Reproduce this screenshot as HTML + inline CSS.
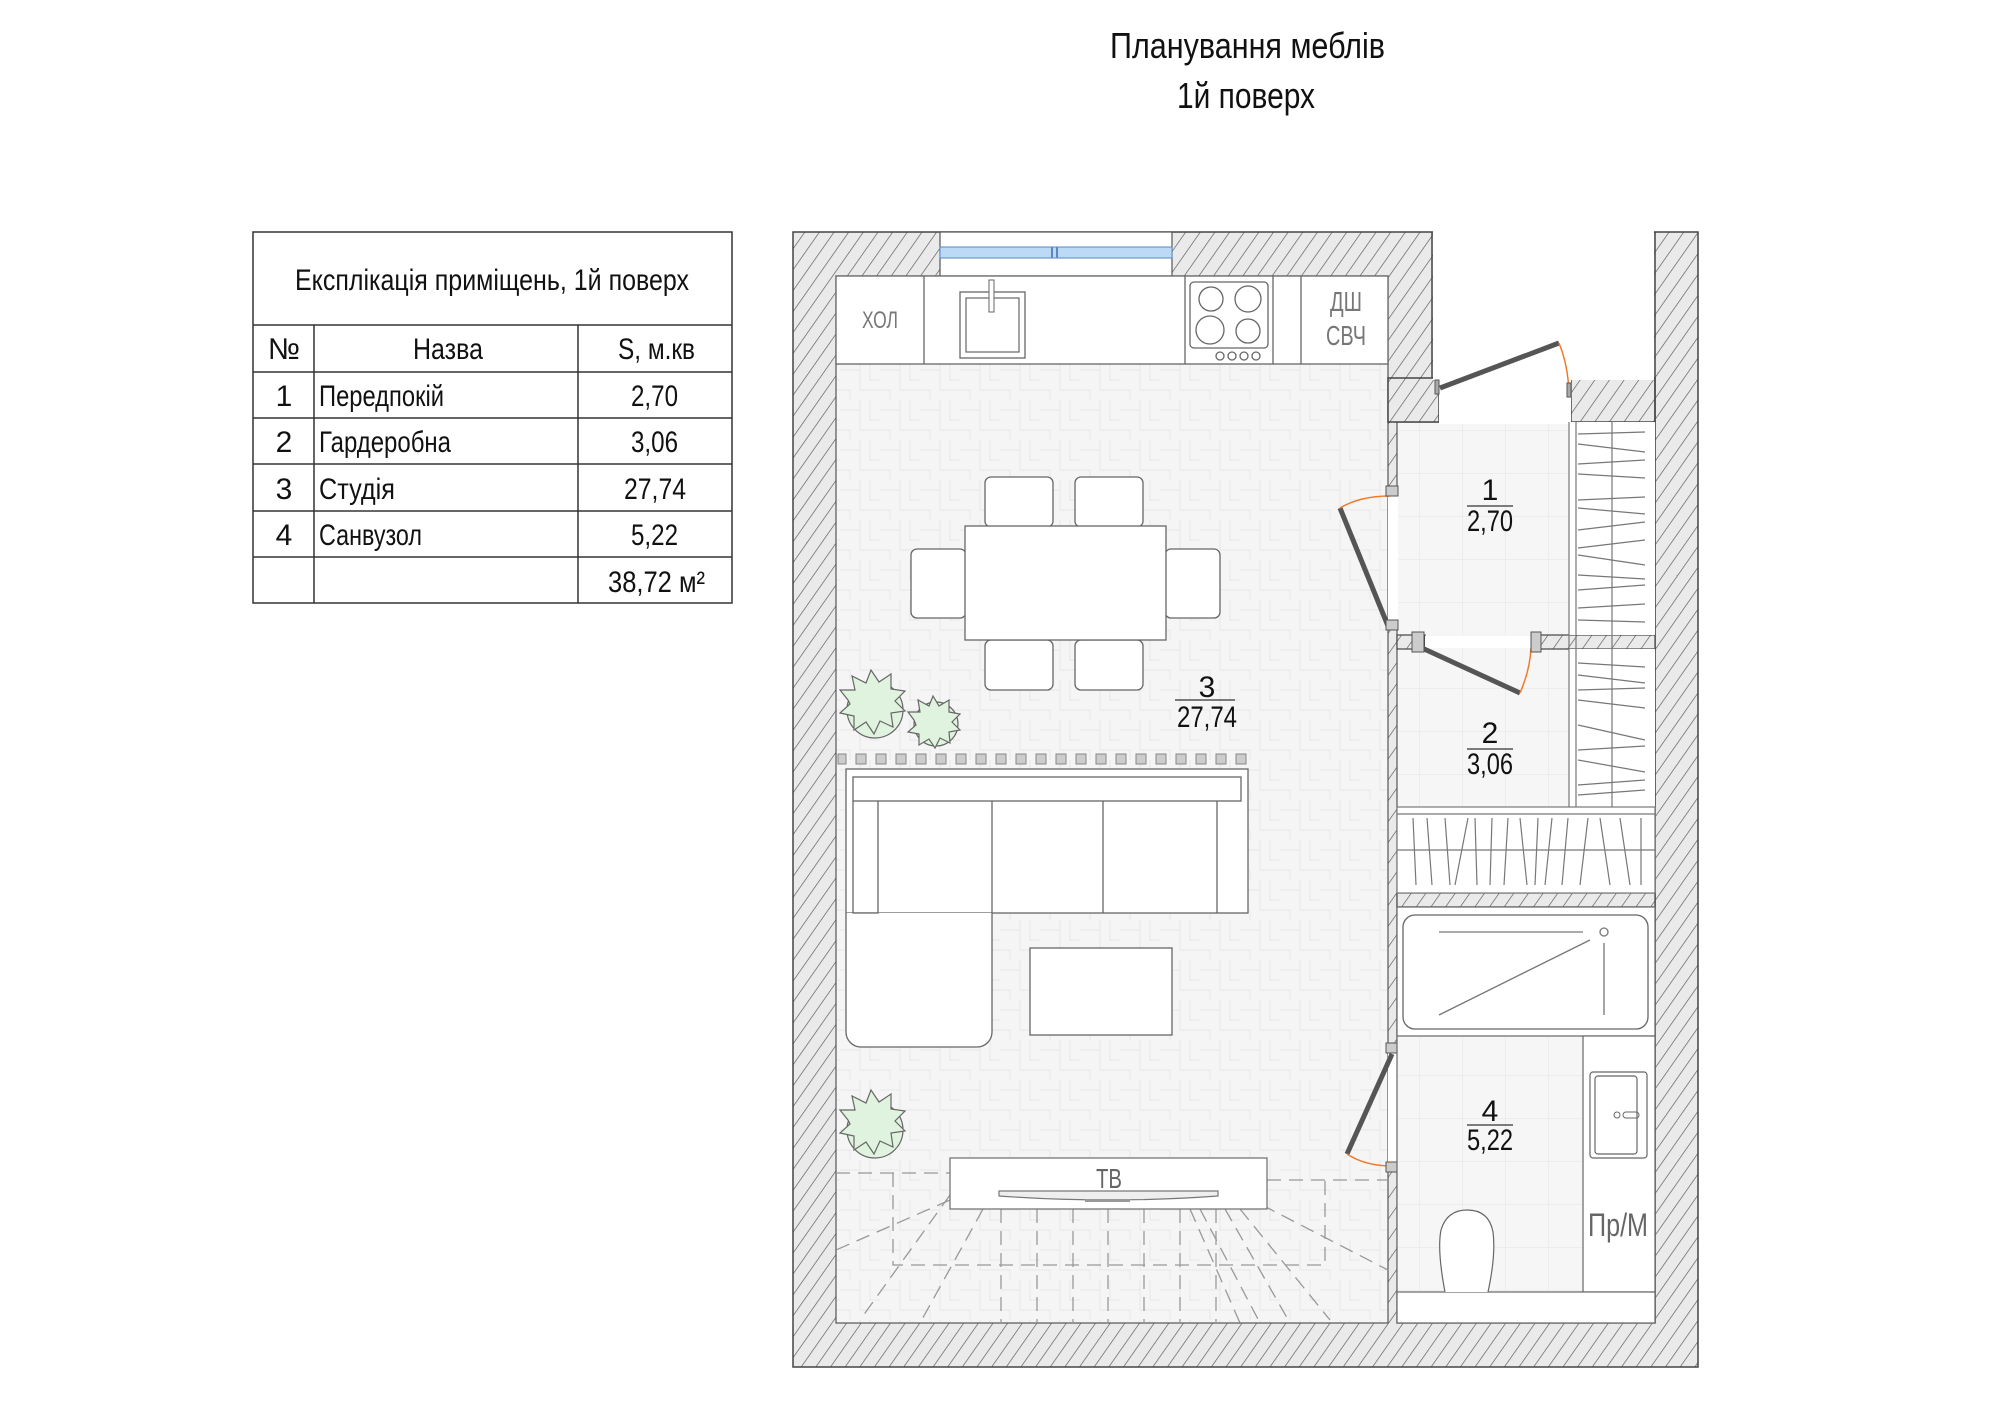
<!DOCTYPE html>
<html><head><meta charset="utf-8"><style>
html,body{margin:0;padding:0;background:#fff;}
svg{display:block;}
text{font-family:"Liberation Sans Narrow","Liberation Sans",sans-serif;}
</style></head><body>
<svg width="2000" height="1401" viewBox="0 0 2000 1401" xmlns="http://www.w3.org/2000/svg">
<defs>
<pattern id="h" width="12" height="12" patternUnits="userSpaceOnUse" patternTransform="rotate(35)">
<rect width="12" height="12" fill="#eaeaea"/><line x1="0" y1="0" x2="0" y2="12" stroke="#555" stroke-width="1.3"/></pattern>
<pattern id="f" width="40" height="40" patternUnits="userSpaceOnUse">
<rect width="40" height="40" fill="#f5f5f5"/><path d="M0 10H20V30H40M20 0V10M0 30H10V40M30 0V20H40" stroke="#e6e6e6" fill="none" stroke-width="1"/></pattern>
<pattern id="t" width="43" height="43" patternUnits="userSpaceOnUse">
<rect width="43" height="43" fill="#f6f6f6"/><path d="M0 0H43M0 0V43" stroke="#e4e4e4" stroke-width="1"/></pattern>
</defs>

<!-- Title -->
<text x="1110" y="58" font-size="36" textLength="275" lengthAdjust="spacingAndGlyphs" fill="#111">Планування меблів</text>
<text x="1177" y="108" font-size="36" textLength="138" lengthAdjust="spacingAndGlyphs" fill="#111">1й поверх</text>

<!-- Table -->
<g stroke="#333" stroke-width="1.5" fill="none">
<rect x="253" y="232" width="479" height="371"/>
<path d="M253 325H732M253 372H732M253 418H732M253 464H732M253 511H732M253 557H732M314 325V603M578 325V603"/>
</g>
<g fill="#111" font-size="30">
<text x="295" y="290" textLength="394" lengthAdjust="spacingAndGlyphs">Експлікація приміщень, 1й поверх</text>
<text x="284" y="359" text-anchor="middle">№</text>
<text x="413" y="359" textLength="70" lengthAdjust="spacingAndGlyphs">Назва</text>
<text x="618" y="359" textLength="77" lengthAdjust="spacingAndGlyphs">S, м.кв</text>
<text x="284" y="406" text-anchor="middle">1</text><text x="319" y="406" textLength="125" lengthAdjust="spacingAndGlyphs">Передпокій</text><text x="631" y="406" textLength="47" lengthAdjust="spacingAndGlyphs">2,70</text>
<text x="284" y="452" text-anchor="middle">2</text><text x="319" y="452" textLength="132" lengthAdjust="spacingAndGlyphs">Гардеробна</text><text x="631" y="452" textLength="47" lengthAdjust="spacingAndGlyphs">3,06</text>
<text x="284" y="499" text-anchor="middle">3</text><text x="319" y="499" textLength="76" lengthAdjust="spacingAndGlyphs">Студія</text><text x="624" y="499" textLength="62" lengthAdjust="spacingAndGlyphs">27,74</text>
<text x="284" y="545" text-anchor="middle">4</text><text x="319" y="545" textLength="103" lengthAdjust="spacingAndGlyphs">Санвузол</text><text x="631" y="545" textLength="47" lengthAdjust="spacingAndGlyphs">5,22</text>
<text x="608" y="592" textLength="97" lengthAdjust="spacingAndGlyphs">38,72 м²</text>
</g>

<!-- Walls -->
<rect x="793" y="232" width="905" height="1135" fill="url(#h)" stroke="#444" stroke-width="1.5"/>
<rect x="836" y="276" width="552" height="1047" fill="url(#f)" stroke="#555" stroke-width="1.2"/>
<rect x="1397" y="422" width="258" height="901" fill="url(#t)" stroke="#555" stroke-width="1.2"/>
<rect x="1388" y="378" width="51" height="44" fill="url(#h)" stroke="#444" stroke-width="1.5"/>
<rect x="1571" y="378" width="84" height="44" fill="url(#h)" stroke="#444" stroke-width="1.5"/>
<rect x="1439" y="378" width="132" height="46" fill="#fff"/>
<rect x="1433" y="229" width="221" height="151" fill="#fff"/>
<path d="M1432 232V378M1655 232V1323" stroke="#444" stroke-width="1.5"/>
<rect x="1537" y="635" width="118" height="14" fill="url(#h)" stroke="#444" stroke-width="1.2"/>
<rect x="1397" y="635" width="28" height="14" fill="url(#h)" stroke="#444" stroke-width="1.2"/>
<rect x="1397" y="893" width="258" height="14" fill="url(#h)" stroke="#444" stroke-width="1.2"/>
<rect x="1388" y="492" width="10" height="134" fill="#fff"/>
<rect x="1388" y="1050" width="10" height="112" fill="#fff"/>
<rect x="1425" y="636" width="112" height="12" fill="#fff"/>

<!-- Window -->
<rect x="940" y="232" width="232" height="44" fill="#fff" stroke="#555" stroke-width="1.2"/>
<rect x="940" y="247" width="232" height="11" fill="#bcd9f5" stroke="#5a88c0" stroke-width="1"/>
<path d="M1052 247V258M1057 247V258" stroke="#5a88c0" stroke-width="2"/>

<!-- Kitchen -->
<rect x="836" y="276" width="552" height="88" fill="#fff" stroke="#666" stroke-width="1.3"/>
<path d="M924 276V364M1185 276V364M1273 276V364M1301 276V364" stroke="#666" stroke-width="1.3"/>
<text x="880" y="328" font-size="24" fill="#777" text-anchor="middle" textLength="36" lengthAdjust="spacingAndGlyphs">ХОЛ</text>
<text x="1346" y="311" font-size="28" fill="#777" text-anchor="middle" textLength="32" lengthAdjust="spacingAndGlyphs">ДШ</text>
<text x="1346" y="345" font-size="28" fill="#777" text-anchor="middle" textLength="40" lengthAdjust="spacingAndGlyphs">СВЧ</text>
<rect x="960" y="292" width="65" height="66" fill="#fff" stroke="#666" stroke-width="1.3"/>
<rect x="966" y="298" width="53" height="54" fill="none" stroke="#666" stroke-width="1.2"/>
<rect x="989" y="280" width="5" height="32" fill="#fff" stroke="#666"/>
<rect x="1190" y="282" width="78" height="66" rx="4" fill="#fff" stroke="#666" stroke-width="1.3"/>
<g fill="none" stroke="#666" stroke-width="1.3">
<circle cx="1211" cy="299" r="12"/><circle cx="1248" cy="299" r="13"/><circle cx="1210" cy="330" r="14"/><circle cx="1248" cy="331" r="12"/>
<circle cx="1220" cy="356" r="4"/><circle cx="1232" cy="356" r="4"/><circle cx="1244" cy="356" r="4"/><circle cx="1256" cy="356" r="4"/>
</g>

<!-- Dining -->
<g fill="#fff" stroke="#666" stroke-width="1.3">
<rect x="985" y="477" width="68" height="50" rx="6"/><rect x="1075" y="477" width="68" height="50" rx="6"/>
<rect x="985" y="640" width="68" height="50" rx="6"/><rect x="1075" y="640" width="68" height="50" rx="6"/>
<rect x="911" y="549" width="55" height="69" rx="6"/><rect x="1165" y="549" width="55" height="69" rx="6"/>
<rect x="965" y="526" width="201" height="114"/>
</g>
<text x="1207" y="697" font-size="30" text-anchor="middle" fill="#111">3</text>
<line x1="1175" y1="700" x2="1235" y2="700" stroke="#333" stroke-width="1.3"/>
<text x="1207" y="727" font-size="30" text-anchor="middle" fill="#111" textLength="60" lengthAdjust="spacingAndGlyphs">27,74</text>

<!-- Plants -->
<g fill="#dff3df" stroke="#666" stroke-width="1.2">
<circle cx="875" cy="710" r="28"/><path d="M848 700l-8-10 15 0-3-14 14 7 5-13 8 12 12-8 0 15 14 2-10 10 10 10-14 2 2 14-13-6-6 13-8-12-12 8 0-14-14-3 10-9z"/>
<circle cx="936" cy="724" r="22"/><path d="M914 720l-6-8 12 0-2-12 11 6 4-10 6 10 10-6 0 12 11 2-8 8 8 8-11 2 1 11-10-5-5 10-6-9-10 6 0-11-11-2 8-7z"/>
<circle cx="875" cy="1130" r="28"/><path d="M848 1120l-8-10 15 0-3-14 14 7 5-13 8 12 12-8 0 15 14 2-10 10 10 10-14 2 2 14-13-6-6 13-8-12-12 8 0-14-14-3 10-9z"/>
</g>

<!-- Studs -->
<g fill="#ccc" stroke="#888" stroke-width="1">
<rect x="838" y="754" width="8" height="10"/>
<rect x="856" y="754" width="10" height="10"/><rect x="876" y="754" width="10" height="10"/><rect x="896" y="754" width="10" height="10"/><rect x="916" y="754" width="10" height="10"/><rect x="936" y="754" width="10" height="10"/><rect x="956" y="754" width="10" height="10"/><rect x="976" y="754" width="10" height="10"/><rect x="996" y="754" width="10" height="10"/><rect x="1016" y="754" width="10" height="10"/><rect x="1036" y="754" width="10" height="10"/><rect x="1056" y="754" width="10" height="10"/><rect x="1076" y="754" width="10" height="10"/><rect x="1096" y="754" width="10" height="10"/><rect x="1116" y="754" width="10" height="10"/><rect x="1136" y="754" width="10" height="10"/><rect x="1156" y="754" width="10" height="10"/><rect x="1176" y="754" width="10" height="10"/><rect x="1196" y="754" width="10" height="10"/><rect x="1216" y="754" width="10" height="10"/><rect x="1236" y="754" width="10" height="10"/>
</g>

<!-- Sofa -->
<g fill="#fff" stroke="#666" stroke-width="1.3">
<rect x="846" y="769" width="402" height="144"/>
<path d="M846 913V1032a15 15 0 0 0 15 15H977a15 15 0 0 0 15-15V913"/>
<rect x="853" y="777" width="388" height="24"/>
<path d="M853 801V913H878V801M992 801V913M1103 801V913M1217 801V913" fill="none"/>
<rect x="1030" y="948" width="142" height="87"/>
</g>

<!-- TV area dashed -->
<g stroke="#999" stroke-width="1.3" fill="none" stroke-dasharray="14 8">
<path d="M836 1173H950M1267 1180H1388M893 1173V1265H1325V1180"/>
<path d="M983 1209L920 1323M1001 1209V1323M1037 1209V1323M1073 1209V1323M1108 1209V1323M1144 1209V1323M1180 1209V1323M1216 1209V1323"/>
<path d="M950 1200L836 1250M950 1195L860 1320M1225 1209L1290 1323M1240 1209L1330 1320M1262 1205L1388 1270M1200 1209L1260 1323M1190 1209L1240 1323"/>
</g>
<rect x="950" y="1158" width="317" height="51" fill="#fff" stroke="#777" stroke-width="1.3"/>
<text x="1109" y="1188" font-size="28" text-anchor="middle" fill="#666" textLength="26" lengthAdjust="spacingAndGlyphs">ТВ</text>
<path d="M999 1191H1218V1196Q1109 1204 999 1196Z" fill="#eee" stroke="#777" stroke-width="1.2"/>
<rect x="1085" y="1199" width="45" height="3" fill="#999"/>

<!-- Entry door -->
<line x1="1440" y1="388" x2="1559" y2="343" stroke="#555" stroke-width="5"/>
<path d="M1559 343Q1568 365 1569 392" stroke="#f07a2a" stroke-width="1.5" fill="none"/>
<rect x="1435" y="380" width="4" height="14" fill="#aaa" stroke="#555"/>
<rect x="1567" y="383" width="4" height="14" fill="#aaa" stroke="#555"/>

<!-- Door room1 -->
<line x1="1388" y1="626" x2="1340" y2="508" stroke="#555" stroke-width="5"/>
<path d="M1340 508Q1360 496 1390 496" stroke="#f07a2a" stroke-width="1.5" fill="none"/>
<rect x="1386" y="486" width="12" height="10" fill="#ccc" stroke="#555"/>
<rect x="1386" y="620" width="12" height="10" fill="#ccc" stroke="#555"/>
<!-- Door room2 -->
<line x1="1422" y1="648" x2="1520" y2="693" stroke="#555" stroke-width="5"/>
<path d="M1520 693Q1530 670 1531 648" stroke="#f07a2a" stroke-width="1.5" fill="none"/>
<rect x="1412" y="632" width="12" height="20" fill="#ccc" stroke="#555"/>
<rect x="1531" y="632" width="10" height="20" fill="#ccc" stroke="#555"/>
<!-- Door room4 -->
<line x1="1392" y1="1054" x2="1347" y2="1154" stroke="#555" stroke-width="5"/>
<path d="M1347 1154Q1365 1166 1392 1166" stroke="#f07a2a" stroke-width="1.5" fill="none"/>
<rect x="1386" y="1043" width="12" height="10" fill="#ccc" stroke="#555"/>
<rect x="1386" y="1162" width="12" height="10" fill="#ccc" stroke="#555"/>

<!-- Wardrobes -->
<rect x="1569" y="422" width="86" height="213" fill="#fff"/>
<rect x="1569" y="649" width="86" height="158" fill="#fff"/>
<g stroke="#777" stroke-width="1.2" fill="none">
<path d="M1569 422V807M1576 422V807M1612 422V807"/>
<path d="M1578 434L1645 432M1578 444L1645 452M1578 464L1645 460M1578 474L1645 478M1578 500L1645 497M1578 508L1645 514M1578 530L1645 522M1578 548L1645 540M1578 555L1645 565M1578 575L1645 579M1578 590L1645 585M1578 608L1645 604M1578 620L1645 622"/>
<path d="M1578 663L1645 667M1578 675L1645 683M1578 690L1645 688M1578 700L1645 708M1578 725L1645 740M1578 750L1645 746M1578 760L1645 772M1578 785L1645 780M1578 795L1645 790"/>
</g>
<rect x="1397" y="807" width="258" height="86" fill="#fff" stroke="#777" stroke-width="1.2"/>
<g stroke="#777" stroke-width="1.2" fill="none">
<path d="M1397 814H1655M1397 850H1655"/>
<path d="M1413 818L1416 885M1427 818L1432 885M1445 818L1450 885M1468 818L1455 885M1475 818L1477 885M1492 818L1490 885M1508 818L1504 885M1520 818L1527 885M1538 818L1535 885M1552 818L1545 885M1568 818L1562 885M1588 818L1580 885M1600 818L1610 885M1620 818L1630 885M1641 818L1641 885"/>
</g>

<!-- Bathroom -->
<rect x="1397" y="907" width="258" height="416" fill="url(#t)" stroke="#666" stroke-width="1.2"/>
<rect x="1397" y="907" width="258" height="129" fill="#fff" stroke="#666" stroke-width="1.2"/>
<rect x="1403" y="915" width="245" height="114" rx="12" fill="#fff" stroke="#666" stroke-width="1.3"/>
<g stroke="#777" stroke-width="1.3" fill="none">
<path d="M1439 932H1583M1439 1015L1590 940M1604 943V1015"/><circle cx="1604" cy="932" r="4"/>
</g>
<rect x="1583" y="1036" width="72" height="256" fill="#fff" stroke="#666" stroke-width="1.2"/>
<rect x="1590" y="1072" width="57" height="86" rx="3" fill="#fff" stroke="#666" stroke-width="1.2"/>
<rect x="1595" y="1076" width="42" height="78" rx="3" fill="none" stroke="#666" stroke-width="1.2"/>
<circle cx="1617" cy="1115" r="3" fill="none" stroke="#666"/><rect x="1623" y="1112" width="16" height="6" rx="3" fill="none" stroke="#666"/>
<text x="1618" y="1236" font-size="32" text-anchor="middle" fill="#666" textLength="60" lengthAdjust="spacingAndGlyphs">Пр/М</text>
<rect x="1397" y="1292" width="258" height="31" fill="#fff" stroke="#666" stroke-width="1.2"/>
<path d="M1445 1292Q1437 1250 1441 1230Q1447 1210 1467 1210Q1489 1210 1493 1232Q1496 1255 1488 1292" fill="#fff" stroke="#666" stroke-width="1.2"/>

<!-- Room labels -->
<g fill="#111" font-size="30" text-anchor="middle">
<text x="1490" y="500">1</text><text x="1490" y="531" textLength="46" lengthAdjust="spacingAndGlyphs">2,70</text>
<text x="1490" y="743">2</text><text x="1490" y="774" textLength="46" lengthAdjust="spacingAndGlyphs">3,06</text>
<text x="1490" y="1121">4</text><text x="1490" y="1150" textLength="46" lengthAdjust="spacingAndGlyphs">5,22</text>
</g>
<g stroke="#333" stroke-width="1.3">
<line x1="1467" y1="506" x2="1513" y2="506"/><line x1="1467" y1="749" x2="1513" y2="749"/><line x1="1467" y1="1125" x2="1513" y2="1125"/>
</g>
</svg>
</body></html>
